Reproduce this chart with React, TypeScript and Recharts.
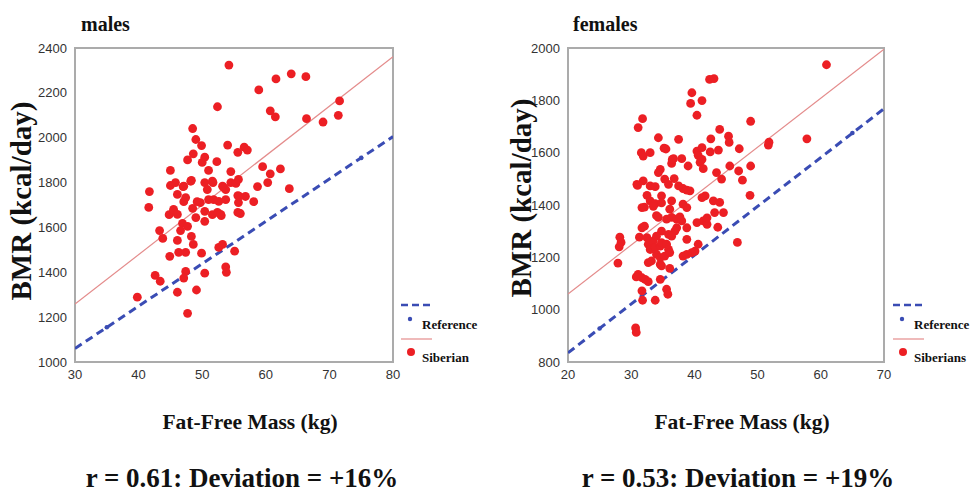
import React from 'react';
import { ScatterChart, Scatter, XAxis, YAxis, ReferenceArea } from 'recharts';

// ---- data: [fat-free mass (kg), BMR (kcal/day)] ----
const malePoints: [number, number][] = [
  [54.2,2324],[52.4,2138],[58.9,2213],[61.6,2262],[64.0,2285],[66.3,2272],[60.7,2120],[61.5,2093],
  [66.4,2085],[69.0,2070],[71.6,2164],[71.4,2100],[48.5,2041],[49.0,1992],[49.9,1965],[54.0,1967],
  [47.7,1901],[48.6,1928],[50.0,1890],[50.4,1913],[52.3,1893],[55.6,1935],[56.6,1958],[57.1,1945],
  [45.0,1854],[54.5,1849],[51.0,1854],[59.5,1871],[60.7,1839],[62.3,1861],[41.7,1760],[45.0,1787],
  [45.8,1800],[47.0,1782],[48.3,1810],[50.4,1800],[51.7,1800],[53.4,1777],[54.5,1800],[55.3,1796],
  [55.7,1814],[58.7,1782],[60.3,1800],[63.7,1773],[41.6,1689],[43.3,1586],[43.8,1551],[44.8,1657],
  [45.5,1672],[46.1,1747],[47.1,1715],[47.4,1733],[48.5,1685],[49.2,1715],[49.7,1711],[50.4,1672],
  [50.4,1627],[51.0,1724],[51.8,1724],[52.6,1716],[51.6,1657],[52.4,1667],[53.0,1653],[53.7,1724],
  [55.6,1742],[55.7,1711],[56.8,1738],[58.1,1715],[55.6,1667],[56.0,1662],[46.9,1618],[47.7,1605],
  [46.6,1586],[46.1,1542],[48.3,1560],[48.6,1524],[44.9,1471],[46.3,1489],[47.4,1489],[49.9,1485],
  [52.6,1511],[53.2,1524],[55.1,1494],[42.6,1386],[43.4,1360],[47.4,1404],[47.1,1374],[50.4,1396],
  [53.7,1424],[53.8,1400],[46.1,1311],[49.1,1321],[39.8,1289],[47.7,1217],[50.8,1769],[53.7,1769],
  [55.8,1739],[48.2,1806],[51.6,1806],[45.5,1680],[46.1,1658],[49.0,1644],[52.9,1658],[47.1,1784],
  [53.2,1784],
];

const femalePoints: [number, number][] = [
  [60.9,1936],[57.8,1653],[51.7,1629],[51.8,1640],[48.9,1720],[43.1,1883],[42.4,1880],[39.6,1829],
  [39.4,1788],[41.2,1799],[40.4,1743],[31.8,1730],[31.1,1696],[34.3,1657],[37.5,1651],[42.6,1653],
  [44.0,1689],[45.4,1663],[45.5,1639],[47.1,1615],[31.6,1600],[31.9,1587],[33.0,1600],[35.2,1617],
  [35.5,1614],[38.0,1577],[40.4,1606],[41.2,1619],[42.5,1603],[43.8,1610],[40.9,1563],[41.4,1539],
  [36.7,1577],[36.4,1559],[39.0,1549],[45.6,1549],[48.9,1549],[47.0,1530],[43.5,1524],[44.3,1499],
  [47.6,1495],[34.6,1536],[34.3,1524],[35.3,1499],[36.8,1501],[33.0,1473],[33.8,1470],[30.9,1479],
  [31.9,1492],[35.9,1479],[39.3,1454],[38.2,1463],[37.5,1473],[38.8,1457],[48.8,1437],[32.5,1437],
  [34.8,1435],[41.7,1435],[41.2,1428],[40.6,1590],[41.2,1574],[36.5,1574],[31.0,1475],[33.0,1416],
  [33.8,1405],[36.4,1416],[43.0,1416],[44.0,1410],[31.7,1390],[32.1,1392],[34.0,1359],[34.3,1353],
  [35.6,1346],[36.4,1353],[37.2,1346],[37.7,1355],[38.0,1339],[36.1,1384],[38.2,1403],[38.8,1390],
  [43.2,1371],[44.6,1371],[40.4,1333],[41.4,1339],[42.0,1326],[43.7,1315],[46.8,1257],[28.2,1277],
  [28.4,1257],[28.1,1240],[27.9,1178],[31.7,1313],[32.1,1319],[31.3,1277],[32.7,1250],[33.5,1262],
  [33.0,1230],[33.8,1237],[34.6,1243],[34.8,1256],[35.6,1250],[35.9,1230],[34.0,1211],[34.6,1199],
  [35.3,1205],[36.1,1218],[32.7,1180],[33.2,1186],[34.6,1173],[34.8,1167],[36.1,1158],[31.1,1135],
  [31.7,1122],[32.2,1116],[32.7,1107],[30.8,1125],[34.6,1116],[31.7,1072],[31.8,1036],[33.8,1036],
  [35.6,1078],[35.8,1059],[30.7,930],[30.8,913],[38.2,1205],[38.8,1211],[39.6,1218],[40.1,1224],
  [40.6,1250],[38.8,1269],[38.8,1313],[37.2,1313],[36.9,1300],[35.9,1288],[36.4,1281],[34.8,1300],
  [34.0,1281],[32.5,1275],[33.5,1395],[34.8,1408],[42.0,1351],
];

// reference equation line (ends) and its marked points; Siberian regression line (ends)
const maleRefLine: [number, number][] = [[30, 1060], [80, 2005]];
const maleRefDots: [number, number][] = [[35, 1155], [75, 1910]];
const maleFitLine: [number, number][] = [[30, 1258], [80, 2361]];
const femaleRefLine: [number, number][] = [[20, 835], [70, 1768]];
const femaleRefDots: [number, number][] = [[25, 928], [65, 1675]];
const femaleFitLine: [number, number][] = [[20, 1060], [70, 1995]];

const maleXTicks = [30, 40, 50, 60, 70, 80];
const maleYTicks = [1000, 1200, 1400, 1600, 1800, 2000, 2200, 2400];
const femaleXTicks = [20, 30, 40, 50, 60, 70];
const femaleYTicks = [800, 1000, 1200, 1400, 1600, 1800, 2000];

const toXY = (arr: [number, number][]) => arr.map(([x, y]) => ({ x, y }));

const RED = '#ec1f24';
const BLUE = '#3a4cb4';
const PINK = '#e48c8c';
const BORDER = '#ababab';
const SERIF = '"Liberation Serif", "Times New Roman", serif';
const SANS = '"Liberation Sans", Arial, sans-serif';

const tickStyle = { fill: '#333', fontSize: 13, fontFamily: SANS };

const RedDot = (p: any) => <circle cx={p.cx} cy={p.cy} r={4.4} fill={RED} />;
const BlueDot = (p: any) => <circle cx={p.cx} cy={p.cy} r={2.3} fill={BLUE} />;
const NoDot = () => <g />;

type PanelProps = {
  left: number;
  width: number;
  yAxisWidth: number;
  right: number;
  xDomain: [number, number];
  yDomain: [number, number];
  xTicks: number[];
  yTicks: number[];
  points: [number, number][];
  refLine: [number, number][];
  refDots: [number, number][];
  fitLine: [number, number][];
};

const Panel = (p: PanelProps) => (
  <div style={{ position: 'absolute', left: p.left, top: 0 }}>
    <ScatterChart width={p.width} height={400} margin={{ top: 48, right: p.right, bottom: 8, left: 0 }}>
      <XAxis
        type="number"
        dataKey="x"
        domain={p.xDomain}
        ticks={p.xTicks}
        interval={0}
        tickLine={false}
        axisLine={false}
        tick={tickStyle}
        height={30}
        allowDataOverflow
      />
      <YAxis
        type="number"
        dataKey="y"
        domain={p.yDomain}
        ticks={p.yTicks}
        interval={0}
        tickLine={false}
        axisLine={false}
        tick={tickStyle}
        width={p.yAxisWidth}
        allowDataOverflow
      />
      <ReferenceArea
        x1={p.xDomain[0]}
        x2={p.xDomain[1]}
        y1={p.yDomain[0]}
        y2={p.yDomain[1]}
        fill="none"
        stroke={BORDER}
        strokeWidth={2}
      />
      <Scatter
        data={toXY(p.fitLine)}
        line={{ stroke: PINK, strokeWidth: 1.2 }}
        shape={NoDot}
        isAnimationActive={false}
      />
      <Scatter
        data={toXY(p.refLine)}
        line={{ stroke: BLUE, strokeWidth: 3, strokeDasharray: '8 5' }}
        shape={NoDot}
        isAnimationActive={false}
      />
      <Scatter data={toXY(p.refDots)} shape={BlueDot} isAnimationActive={false} />
      <Scatter data={toXY(p.points)} shape={RedDot} isAnimationActive={false} />
    </ScatterChart>
  </div>
);

const Text = ({ x, y, size, children, anchor = 'middle', rotate = 0 }: any) => {
  const tx = anchor === 'middle' ? '-50%' : anchor === 'end' ? '-100%' : '0%';
  return (
    <div
      style={{
        position: 'absolute',
        left: x,
        top: y,
        transform: `translate(${tx}, -50%)${rotate ? ` rotate(${rotate}deg)` : ''}`,
        transformOrigin: anchor === 'middle' ? 'center' : 'left center',
        fontFamily: SERIF,
        fontWeight: 'bold',
        fontSize: size,
        lineHeight: 1,
        whiteSpace: 'nowrap',
        color: '#111',
      }}
    >
      {children}
    </div>
  );
};

const LegendBox = ({ x, label }: { x: number; label: string }) => (
  <>
    <svg style={{ position: 'absolute', left: x, top: 296 }} width={40} height={66}>
      <line x1={0} y1={9} x2={31} y2={9} stroke={BLUE} strokeWidth={2.5} strokeDasharray="7 4" />
      <circle cx={9} cy={23} r={2.2} fill={BLUE} />
      <line x1={0} y1={43} x2={31} y2={43} stroke={PINK} strokeWidth={1.2} />
      <circle cx={10} cy={56} r={4} fill={RED} />
    </svg>
    <Text x={x + 21} y={324} size={13} anchor="start">Reference</Text>
    <Text x={x + 21} y={357} size={13} anchor="start">{label}</Text>
  </>
);

export default function App() {
  return (
    <div
      style={{
        position: 'absolute',
        left: 0,
        top: 0,
        width: 973,
        height: 491,
        overflow: 'hidden',
        background: '#fff',
      }}
    >
      <Panel
        left={0}
        width={490}
        yAxisWidth={75}
        right={97}
        xDomain={[30, 80]}
        yDomain={[1000, 2400]}
        xTicks={maleXTicks}
        yTicks={maleYTicks}
        points={malePoints}
        refLine={maleRefLine}
        refDots={maleRefDots}
        fitLine={maleFitLine}
      />
      <Panel
        left={490}
        width={483}
        yAxisWidth={78}
        right={89}
        xDomain={[20, 70]}
        yDomain={[800, 2000]}
        xTicks={femaleXTicks}
        yTicks={femaleYTicks}
        points={femalePoints}
        refLine={femaleRefLine}
        refDots={femaleRefDots}
        fitLine={femaleFitLine}
      />

      <Text x={81} y={24} size={20} anchor="start">males</Text>
      <Text x={573} y={24} size={20} anchor="start">females</Text>

      <Text x={21} y={201} size={29} rotate={-90}>BMR (kcal/day)</Text>
      <Text x={521} y={198} size={29} rotate={-90}>BMR (kcal/day)</Text>

      <Text x={250} y={423} size={21.5}>Fat-Free Mass (kg)</Text>
      <Text x={742} y={423} size={21.5}>Fat-Free Mass (kg)</Text>

      <Text x={242} y={478} size={27}>r = 0.61: Deviation = +16%</Text>
      <Text x={738} y={478} size={27}>r = 0.53: Deviation = +19%</Text>

      <LegendBox x={401} label="Siberian" />
      <LegendBox x={893} label="Siberians" />
    </div>
  );
}
